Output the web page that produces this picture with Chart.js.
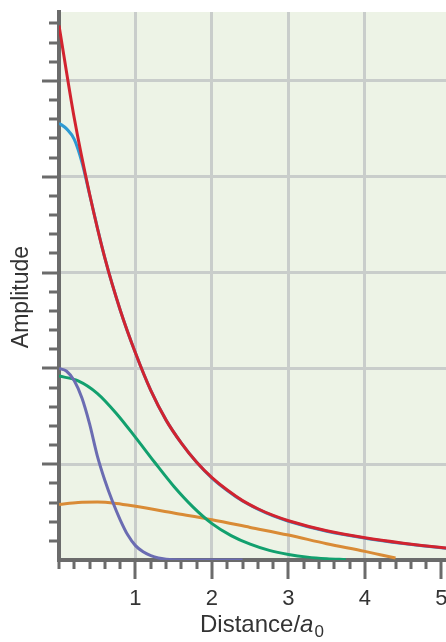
<!DOCTYPE html>
<html>
<head>
<meta charset="utf-8">
<script src="https://cdn.jsdelivr.net/npm/chart.js@4.4.1/dist/chart.umd.min.js"></script>
<style>
  html, body { margin: 0; padding: 0; background: #ffffff; }
  #wrap { width: 446px; height: 642px; }
</style>
</head>
<body>
<div id="wrap"><canvas id="amplitudeChart"></canvas></div>
<script>
// sample positions (distance / a0) and amplitudes
const redX = [0, 0.2, 0.4, 0.6, 0.8, 1.0, 1.2, 1.4, 1.6, 1.8, 2.0, 2.2, 2.4, 2.6, 2.8, 3.0, 3.5, 4.0, 4.5, 5.0, 5.1];
const redY = [5.58, 4.61, 3.82, 3.15, 2.61, 2.16, 1.77, 1.46, 1.22, 1.02, 0.86, 0.73, 0.62, 0.535, 0.465, 0.41, 0.305, 0.232, 0.176, 0.13, 0.123];

const blueX = [0, 0.1, 0.2, 0.3, 0.4, 0.6, 0.8, 1.0, 1.2, 1.4, 1.6, 1.8, 2.0, 2.2, 2.4, 2.6, 2.8, 3.0, 3.5, 4.0, 4.5, 5.0, 5.1];
const blueY = [4.56, 4.5, 4.39, 4.15, 3.815, 3.15, 2.61, 2.16, 1.77, 1.46, 1.22, 1.02, 0.855, 0.725, 0.615, 0.53, 0.46, 0.405, 0.30, 0.228, 0.172, 0.127, 0.12];

const greenX = [0, 0.25, 0.5, 0.75, 1.0, 1.25, 1.5, 1.75, 2.0, 2.25, 2.5, 2.75, 3.0, 3.25, 3.5, 3.75];
const greenY = [1.92, 1.87, 1.74, 1.53, 1.28, 1.02, 0.77, 0.555, 0.38, 0.255, 0.165, 0.10, 0.058, 0.03, 0.014, 0.005];

const purpleX = [0, 0.1, 0.2, 0.3, 0.4, 0.5, 0.6, 0.7, 0.8, 0.9, 1.0, 1.1, 1.2, 1.3, 1.4, 1.5, 1.8, 2.4];
const purpleY = [2.0, 1.97, 1.87, 1.69, 1.42, 1.09, 0.83, 0.61, 0.42, 0.26, 0.15, 0.085, 0.045, 0.02, 0.008, 0.003, 0.001, 0];

const orangeX = [0, 0.25, 0.5, 0.75, 1.0, 1.5, 2.0, 2.5, 3.0, 3.5, 4.0, 4.2, 4.4];
const orangeY = [0.58, 0.60, 0.605, 0.59, 0.56, 0.49, 0.42, 0.34, 0.26, 0.17, 0.09, 0.055, 0.02];

const xTickLabels = ["1", "2", "3", "4", "5"];
const xTitle = ["Distance/", "a", "0"];
const yTitle = "Amplitude";

const toPoints = (xs, ys) => xs.map((x, i) => ({ x: x, y: ys[i] }));

const AXIS = "#6b6b6b";
const TEXT = "#333333";
const FONT = "'Liberation Sans', Arial, sans-serif";

const decor = {
    id: "decor",
    beforeDraw(chart) {
        const { ctx, chartArea: a } = chart;
        ctx.save();
        ctx.fillStyle = "#edf3e6";
        ctx.fillRect(a.left, a.top, a.right - a.left, a.bottom - a.top);
        ctx.restore();
    },
    afterDraw(chart) {
        const { ctx, chartArea: a, scales } = chart;
        const xs = scales.x, ys = scales.y;
        ctx.save();
        ctx.strokeStyle = AXIS;
        ctx.lineWidth = 3;
        ctx.lineCap = "butt";

        // y-axis minor / major tick marks
        for (let i = 1; i <= 28; i++) {
            const py = Math.round(ys.getPixelForValue(i * 0.2));
            const len = i % 5 === 0 ? 17 : 10;
            ctx.beginPath();
            ctx.moveTo(a.left - len, py);
            ctx.lineTo(a.left, py);
            ctx.stroke();
        }

        // x-axis minor / major tick marks
        for (let i = 0; i <= 25; i++) {
            const px = Math.round(xs.getPixelForValue(i * 0.2));
            const len = (i % 5 === 0 && i > 0) ? 19 : 9;
            ctx.beginPath();
            ctx.moveTo(px, a.bottom);
            ctx.lineTo(px, a.bottom + len);
            ctx.stroke();
        }

        // x tick labels
        ctx.fillStyle = TEXT;
        ctx.font = "22px " + FONT;
        ctx.textAlign = "center";
        ctx.textBaseline = "alphabetic";
        xTickLabels.forEach((lab) => {
            ctx.fillText(lab, xs.getPixelForValue(Number(lab)), a.bottom + 45);
        });

        // x title: Distance/a0 with italic a and subscript 0
        ctx.textAlign = "left";
        let tx = 200;
        const base = 632;
        ctx.font = "24px " + FONT;
        ctx.fillText(xTitle[0], tx, base);
        tx += ctx.measureText(xTitle[0]).width;
        ctx.font = "italic 24px " + FONT;
        ctx.fillText(xTitle[1], tx, base);
        tx += ctx.measureText(xTitle[1]).width + 1;
        ctx.font = "17px " + FONT;
        ctx.fillText(xTitle[2], tx, base + 5);

        // y title
        ctx.translate(22, 297);
        ctx.rotate(-Math.PI / 2);
        ctx.font = "23px " + FONT;
        ctx.textAlign = "center";
        ctx.textBaseline = "middle";
        ctx.fillText(yTitle, 0, 0);
        ctx.restore();
    }
};

const lineSet = (data, color) => ({
    data: data,
    borderColor: color,
    backgroundColor: color,
    borderWidth: 3,
    pointRadius: 0,
    fill: false,
    cubicInterpolationMode: "monotone"
});

const integerTicks = (scale) => {
    scale.ticks = scale.ticks.filter((t) => Math.abs(t.value - Math.round(t.value)) < 1e-9);
};

document.addEventListener("DOMContentLoaded", () => {

    const ctx = document.getElementById("amplitudeChart");

    new Chart(ctx, {
        type: "line",
        data: {
            datasets: [
                lineSet(toPoints(redX, redY), "#d2232f"),
                lineSet(toPoints(blueX, blueY), "#2d9ad3"),
                lineSet(toPoints(purpleX, purpleY), "#6b6cb2"),
                lineSet(toPoints(greenX, greenY), "#12a06e"),
                lineSet(toPoints(orangeX, orangeY), "#d98b36")
            ]
        },
        options: {
            responsive: true,
            maintainAspectRatio: false,
            animation: false,
            layout: {
                padding: { top: 12, right: 0, bottom: 0, left: 0 }
            },
            plugins: {
                legend: { display: false },
                tooltip: { enabled: false }
            },
            scales: {
                x: {
                    type: "linear",
                    min: 0,
                    max: 5.06,
                    afterBuildTicks: integerTicks,
                    afterFit: (s) => { s.height = 82; },
                    ticks: { display: false, stepSize: 1 },
                    grid: { color: "#c9cdcb", lineWidth: 3, drawTicks: false },
                    border: { display: true, color: AXIS, width: 4 }
                },
                y: {
                    type: "linear",
                    min: 0,
                    max: 5.72,
                    afterBuildTicks: integerTicks,
                    afterFit: (s) => { s.width = 59; },
                    ticks: { display: false, stepSize: 1 },
                    grid: { color: "#c9cdcb", lineWidth: 3, drawTicks: false },
                    border: { display: true, color: AXIS, width: 4 }
                }
            }
        },
        plugins: [decor]
    });

});
</script>
</body>
</html>
